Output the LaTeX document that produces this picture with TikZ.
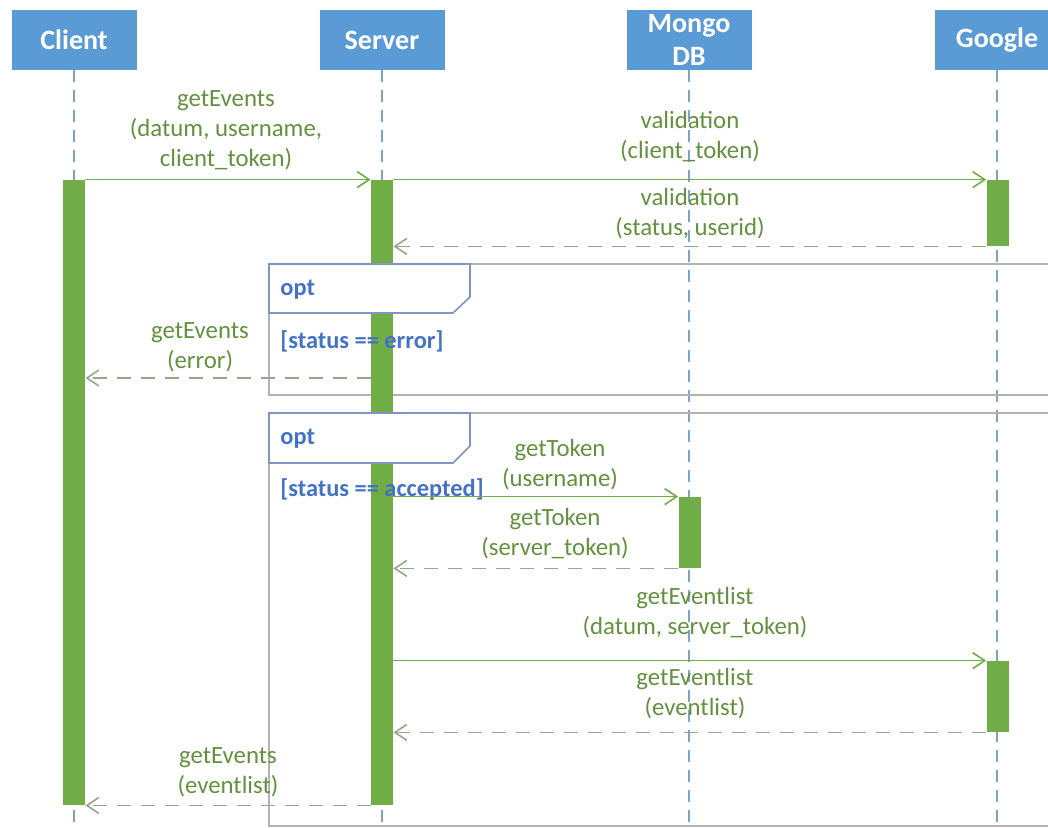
\documentclass[tikz,border=0pt]{standalone}
\usepackage{fontspec}
\setmainfont{Carlito}
\usetikzlibrary{arrows.meta,positioning}
\definecolor{umlHead}{RGB}{91,155,213}
\definecolor{umlBar}{RGB}{112,173,71}
\definecolor{umlMsg}{RGB}{100,145,62}
\definecolor{umlRet}{RGB}{150,168,138}
\definecolor{umlLife}{RGB}{125,163,205}
\definecolor{umlFrame}{RGB}{178,178,178}
\definecolor{umlTab}{RGB}{128,150,192}
\definecolor{umlGuard}{RGB}{68,114,196}

\begin{document}
\begin{tikzpicture}[x=0.5pt,y=-0.5pt,
    head/.style={fill=umlHead, text=white, font=\fontsize{14}{16.5}\selectfont\bfseries,
        minimum width=62.5pt, minimum height=30pt, inner sep=0pt, align=center},
    bar/.style={fill=umlBar, minimum width=11pt, inner sep=0pt},
    life/.style={umlLife, line width=0.7pt, dash pattern=on 6pt off 4pt},
    call/.style={umlBar, line width=0.8pt, -{Straight Barb[length=6pt,width=8pt]}},
    reply/.style={umlRet, line width=0.8pt, dash pattern=on 7pt off 5pt, -{Straight Barb[length=6pt,width=8pt]}},
    lbl/.style={text=umlMsg, font=\fontsize{12.4}{15}\selectfont, align=center, inner sep=0pt},
    guard/.style={text=umlGuard, font=\fontsize{12.2}{15}\selectfont\bfseries, anchor=west, inner sep=0pt},
    frame/.style={umlFrame, line width=0.8pt},
    tab/.style={draw=umlTab, fill=white, line width=0.8pt}]
    \clip (0,0) rectangle (1048,828);
    \fill[white] (0,0) rectangle (1048,828);
    \coordinate (bottom) at (0,828);

    % lifelines and their heads
    \node[head] (client) at (74,40) {Client};
    \node[head] (server) at (382,40) {Server};
    \node[head] (mongo) at (689,40) {Mongo\\DB};
    \node[head] (google) at (997,40) {Google};
    \foreach \who in {client,server,mongo,google}
        \draw[life] (\who.south) -- (\who.south |- bottom);

    % opt frames
    \draw[frame] (269,264) rectangle (1070,395);
    \draw[frame] (269,413) rectangle (1070,826);

    % activations
    \node[bar, minimum height=312.5pt] (cbar) at (74,492.5) {};
    \node[bar, minimum height=312.5pt] (sbar) at (382,492.5) {};
    \node[bar, minimum height=33pt] (gbar1) at (997.5,213) {};
    \node[bar, minimum height=35.5pt] (mbar) at (689.5,532.5) {};
    \node[bar, minimum height=35.5pt] (gbar2) at (997.5,696.5) {};

    % frame tabs and guards
    \draw[tab] (269,264) -- (470,264) -- (470,297) -- (453,313) -- (269,313) -- cycle;
    \draw[tab] (269,413) -- (470,413) -- (470,446) -- (453,463) -- (269,463) -- cycle;
    \node[guard] (opt1) at (280,290) {opt};
    \node[guard] (opt2) at (280,439) {opt};
    \node[guard] (err1) at (280,341) {[status == error]};
    \node[guard] (acc1) at (280,490) {[status == accepted]};

    % messages
    \draw[call] (cbar.north east) -- (sbar.north west);
    \node[lbl] (m1) at (226,130) {getEvents\\(datum, username,\\client\_token)};
    \draw[call] (sbar.north east) -- (gbar1.north west);
    \node[lbl] (m2) at (690,137) {validation\\(client\_token)};
    \draw[reply] (gbar1.south west) -- (sbar.east |- gbar1.south);
    \node[lbl] (m3) at (690,214) {validation\\(status, userid)};

    \coordinate (errline) at (0,378);
    \draw[reply] (sbar.west |- errline) -- (cbar.east |- errline);
    \node[lbl] (m4) at (200,347) {getEvents\\(error)};

    \draw[call] (sbar.east |- mbar.north) -- (mbar.north west);
    \node[lbl] (m5) at (560,465) {getToken\\(username)};
    \draw[reply] (mbar.south west) -- (sbar.east |- mbar.south);
    \node[lbl] (m6) at (555,534) {getToken\\(server\_token)};

    \draw[call] (sbar.east |- gbar2.north) -- (gbar2.north west);
    \node[lbl] (m7) at (695,613) {getEventlist\\(datum, server\_token)};
    \draw[reply] (gbar2.south west) -- (sbar.east |- gbar2.south);
    \node[lbl] (m8) at (695,694) {getEventlist\\(eventlist)};

    \draw[reply] (sbar.south west) -- (cbar.south east);
    \node[lbl] (m9) at (228,772) {getEvents\\(eventlist)};
\end{tikzpicture}
\end{document}
